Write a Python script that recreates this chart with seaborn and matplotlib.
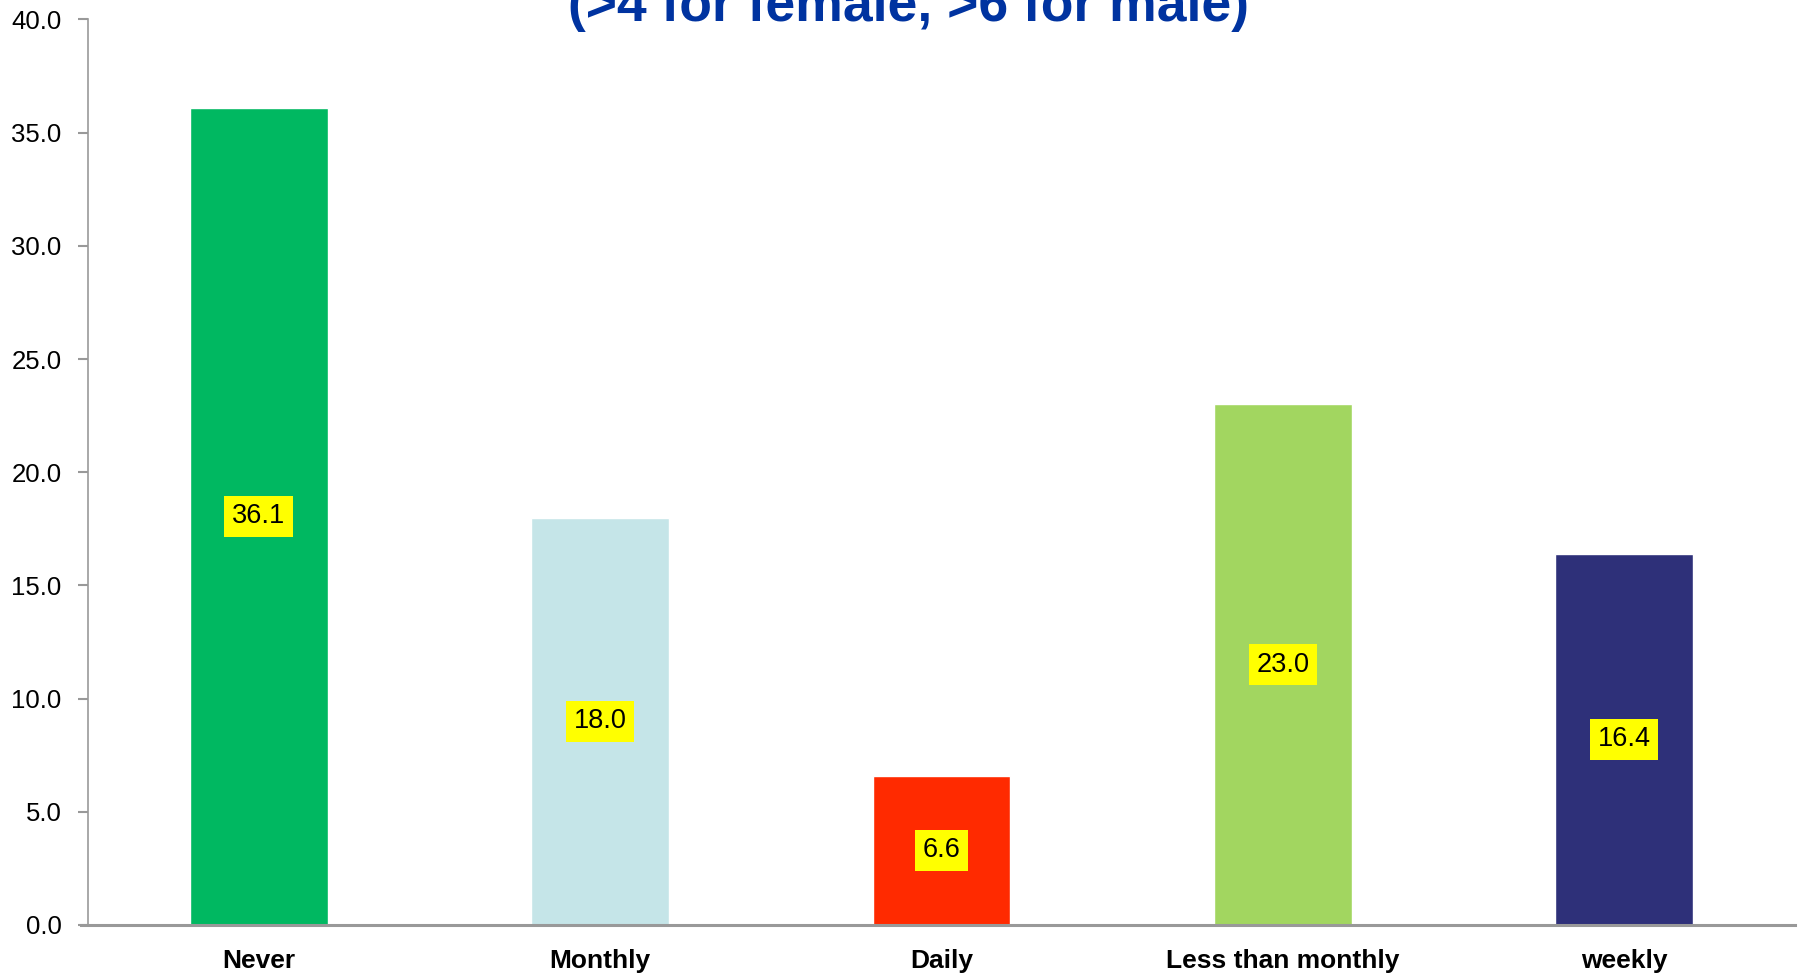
import matplotlib
matplotlib.use("Agg")
import matplotlib.pyplot as plt
import seaborn as sns
import pandas as pd

categories = ["Never", "Monthly", "Daily", "Less than monthly", "weekly"]
values = [36.1, 18.0, 6.6, 23.0, 16.4]
colors = ["#00B861", "#C5E5E8", "#FF2A00", "#A2D660", "#2E3079"]
yticks = [0, 5, 10, 15, 20, 25, 30, 35, 40]
title_line = "(>4 for female, >6 for male)"

sns.set_style("white")
plt.rcParams["font.family"] = ["Liberation Sans", "DejaVu Sans"]

df = pd.DataFrame({"cat": categories, "val": values})

fig = plt.figure(figsize=(18.02, 9.73), dpi=100)
ax = fig.add_axes([88 / 1802, 1 - 925 / 973, (1795 - 88) / 1802, (925 - 19.5) / 973])

sns.barplot(data=df, x="cat", y="val", hue="cat", palette=colors, order=categories,
            hue_order=categories, width=0.404, legend=False, ax=ax, saturation=1)

ax.set_xlim(-0.5, 4.5)
ax.set_ylim(0, 40)
ax.set_yticks(yticks)
ax.set_yticklabels([f"{v:.1f}" for v in yticks], fontsize=18.5, color="black")
ax.set_xlabel("")
ax.set_ylabel("")
ax.set_xticks(range(len(categories)))
ax.set_xticklabels(categories, fontsize=19, fontweight="bold", color="black")
ax.tick_params(axis="x", length=0, pad=17)
ax.tick_params(axis="y", length=7, color="#999999", width=1.5, pad=12, left=True)

for s in ["top", "right"]:
    ax.spines[s].set_visible(False)
ax.spines["left"].set_color("#999999")
ax.spines["left"].set_linewidth(1.2)
ax.spines["bottom"].set_color("#999999")
ax.spines["bottom"].set_linewidth(2.2)
ax.spines["bottom"].set_bounds(-0.52, 4.5)

for i, v in enumerate(values):
    ax.text(i, v / 2, f"{v:.1f}", ha="center", va="center", fontsize=19.5, color="black",
            bbox=dict(boxstyle="square,pad=0.28", facecolor="#FFFF00", edgecolor="none"))

fig.text(908 / 1802, 1 - 21 / 973, title_line, ha="center", va="baseline",
         fontsize=38.5, fontweight="bold", color="#0033A0")

fig.savefig("out.png", dpi=100)
